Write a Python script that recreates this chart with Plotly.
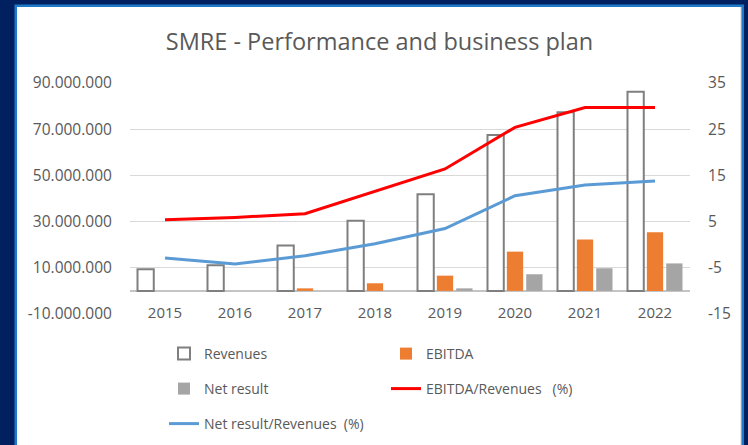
import plotly.graph_objects as go

years = ["2015", "2016", "2017", "2018", "2019", "2020", "2021", "2022"]
revenues = [9.4e6, 11.1e6, 19.7e6, 30.4e6, 41.8e6, 67.5e6, 77.3e6, 86.2e6]
ebitda = [0, 0, 1.1e6, 3.3e6, 6.6e6, 17.0e6, 22.3e6, 25.4e6]
net_result = [0, 0, 0, 0, 1.1e6, 7.2e6, 9.8e6, 11.9e6]
ebitda_pct = [5.4, 5.9, 6.7, 11.5, 16.4, 25.4, 29.7, 29.7]
net_pct = [-2.9, -4.2, -2.4, 0.2, 3.5, 10.6, 12.9, 13.8]

left_tickvals = [-10e6, 10e6, 30e6, 50e6, 70e6, 90e6]
left_ticktext = ["-10.000.000", "10.000.000", "30.000.000", "50.000.000", "70.000.000", "90.000.000"]
right_tickvals = [-15, -5, 5, 15, 25, 35]
right_ticktext = ["-15", "-5", "5", "15", "25", "35"]

TXT = "#595959"
FONT = "Open Sans"

W, H = 748, 445
L, R, T, B = 130, 58, 83, 131
PW, PH = W - L - R, H - T - B


def px(x):
    return (x - L) / PW


def py(y):
    return (H - B - y) / PH


fig = go.Figure()
fig.add_trace(go.Bar(x=years, y=revenues, name="Revenues",
                     marker=dict(color="white", line=dict(color="#7f7f7f", width=2)),
                     legend="legend"))
fig.add_trace(go.Bar(x=years, y=ebitda, name="EBITDA",
                     marker=dict(color="#ED7D31", line=dict(width=0)), legend="legend"))
fig.add_trace(go.Bar(x=years, y=net_result, name="Net result",
                     marker=dict(color="#A5A5A5", line=dict(width=0)), legend="legend2"))
fig.add_trace(go.Scatter(x=years, y=ebitda_pct, name="EBITDA/Revenues   (%)", yaxis="y2",
                         mode="lines", line=dict(color="#FF0000", width=3), legend="legend2"))
fig.add_trace(go.Scatter(x=years, y=net_pct, name="Net result/Revenues  (%)", yaxis="y2",
                         mode="lines", line=dict(color="#5B9BD5", width=3), legend="legend3"))

shapes = [
    dict(type="rect", xref="paper", yref="paper", x0=px(14.5), x1=px(744), y0=py(470), y1=py(4.5),
         fillcolor="#1F7BC8", line=dict(width=0), layer="below"),
    dict(type="rect", xref="paper", yref="paper", x0=px(17), x1=px(741), y0=py(470), y1=py(7),
         fillcolor="white", line=dict(width=0), layer="below"),
    dict(type="line", xref="paper", yref="paper", x0=px(741), x1=px(741), y0=py(470), y1=py(7),
         line=dict(color="#d0d0d0", width=1), layer="below"),
]

leg_common = dict(orientation="h", xanchor="left", yanchor="middle", bgcolor="rgba(0,0,0,0)",
                  font=dict(family=FONT, size=14, color=TXT), entrywidthmode="pixels",
                  entrywidth=177, traceorder="normal", itemclick=False)

fig.update_layout(
    width=W, height=H,
    margin=dict(l=L, r=R, t=T, b=B, autoexpand=False),
    paper_bgcolor="#002060",
    plot_bgcolor="rgba(0,0,0,0)",
    font=dict(family=FONT, color=TXT),
    title=dict(text="SMRE - Performance and business plan", x=px(379.5), xref="paper",
               xanchor="center", y=1 - 42 / H, yref="container", yanchor="middle",
               font=dict(family=FONT, size=23.5, color=TXT)),
    barmode="group", bargap=0.17, bargroupgap=0.16,
    shapes=shapes,
    xaxis=dict(type="category", showgrid=False, showline=False, zeroline=False, ticks="",
               anchor="free", position=0.05, tickfont=dict(family=FONT, size=15, color=TXT)),
    yaxis=dict(range=[-10e6, 90e6], tickvals=left_tickvals, ticktext=left_ticktext,
               showgrid=True, gridcolor="#d9d9d9", gridwidth=1.3,
               zeroline=True, zerolinecolor="#c4c4c4", zerolinewidth=1.5,
               showline=False, ticks="outside", ticklen=14, tickcolor="rgba(0,0,0,0)",
               tickfont=dict(family=FONT, size=15.5, color=TXT)),
    yaxis2=dict(range=[-15, 35], tickvals=right_tickvals, ticktext=right_ticktext,
                overlaying="y", side="right", anchor="x", showgrid=False, zeroline=False,
                showline=False, ticks="outside", ticklen=14, tickcolor="rgba(0,0,0,0)",
                tickfont=dict(family=FONT, size=15.5, color=TXT)),
    legend=dict(x=px(164), y=py(354), **leg_common),
    legend2=dict(x=px(164), y=py(389), **leg_common),
    legend3=dict(x=px(164), y=py(424), **leg_common),
)

fig.write_html("out.html", config={"displayModeBar": False},
               post_script="document.body.style.margin='0';document.body.style.background='#002060';")
